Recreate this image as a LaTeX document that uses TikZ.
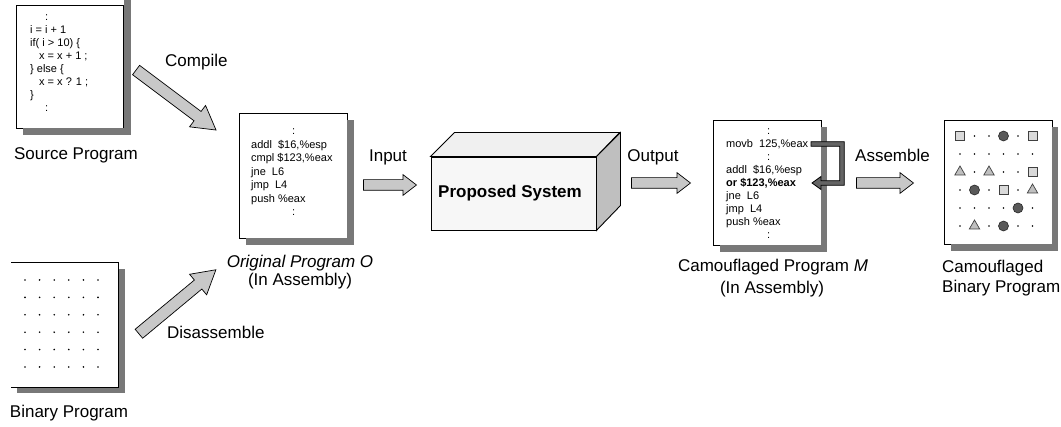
\documentclass[tikz,border=0pt]{standalone}
\usepackage{fontspec}
\setmainfont{Liberation Sans}
\usetikzlibrary{shapes.arrows,shapes.geometric,calc}

\definecolor{shadowgray}{RGB}{120,120,120}
\definecolor{bracketgray}{RGB}{100,100,100}
\definecolor{arrowgray}{RGB}{200,200,200}

\tikzset{
  paper/.style={fill=white,draw=black,line width=0.9pt},
  dropshade/.style={fill=shadowgray},
  lbl/.style={font=\fontsize{17}{20}\selectfont,inner sep=0pt},
  codeline/.style={font=\fontsize{11}{13}\selectfont,anchor=base west,inner sep=0pt},
  blockarrow/.style={single arrow,draw=black,fill=arrowgray,line width=0.7pt,
    inner xsep=0pt,inner ysep=5pt,single arrow head extend=5pt,
    single arrow tip angle=75,minimum width=0pt},
  bigarrow/.style={blockarrow,inner ysep=5.5pt,single arrow head extend=7.5pt,
    single arrow tip angle=60},
  gd/.style={circle,fill=black,minimum size=1.8pt,inner sep=0pt},
  gs/.style={rectangle,draw=black!75,fill=gray!30,line width=0.7pt,minimum size=9pt,inner sep=0pt},
  gc/.style={circle,draw=black!85,fill=black!65,line width=0.6pt,minimum size=10pt,inner sep=0pt},
  gt/.style={regular polygon,regular polygon sides=3,draw=black!75,fill=gray!50,
    line width=0.7pt,minimum size=12pt,inner sep=0pt},
}

% block arrow from one named coordinate to another
\newcommand\blockarrowfromto[4]{%
  \path let \p1=($(#3)-(#2)$), \n1={veclen(\x1,\y1)}, \n2={atan2(\y1,\x1)} in
    node[#1,minimum height=\n1,rotate=\n2] (#4) at ($(#2)!0.5!(#3)$) {};}

\begin{document}
\begin{tikzpicture}[x=1pt,y=-1pt]
\useasboundingbox (0,0) rectangle (1061,427);

% ---------- source program ----------
\node[paper,anchor=north west,minimum width=107pt,minimum height=123pt,inner sep=0pt] (src) at (16,5) {};
\fill[dropshade] (src.north east) ++(0.45pt,7pt) rectangle (131,135);
\fill[dropshade] (src.south west) ++(7pt,0.45pt) rectangle (131,135);
\node[codeline] (s1) at (45,21) {:};
\node[codeline] (s2) at (30,34) {i = i + 1};
\node[codeline] (s3) at (30,47) {if( i > 10) \{};
\node[codeline] (s4) at (39,60) {x = x + 1 ;};
\node[codeline] (s5) at (30,73) {\} else \{};
\node[codeline] (s6) at (39,86) {x = x ? 1 ;};
\node[codeline] (s7) at (30,99) {\}};
\node[codeline] (s8) at (45,112) {:};
\node[lbl] (srcl) at (76,155) {Source Program};

% ---------- binary program ----------
\node[fill=white,anchor=north west,minimum width=107pt,minimum height=125pt,inner sep=0pt] (bin) at (11,262) {};
\fill[dropshade] (118.45,269) rectangle (125,393);
\fill[dropshade] (17,387.45) rectangle (125,393);
\draw[line width=0.9pt] (bin.north west) -- (bin.north east) -- (bin.south east) -- (bin.south west);
\foreach \r in {0,...,5}
  \foreach \c in {0,...,5}
    \node[gd] (bd-\r-\c) at ({25+14.6*\c},{280+17.4*\r}) {};
\node[lbl] (binl) at (69,413) {Binary Program};

% ---------- original program O ----------
\node[paper,anchor=north west,minimum width=108pt,minimum height=125pt,inner sep=0pt] (orig) at (239,113) {};
\fill[dropshade] (347.45,120) rectangle (354,245);
\fill[dropshade] (246,238.45) rectangle (354,245);
\node[codeline] (o1) at (292,135) {:};
\node[codeline] (o2) at (251,148.5) {addl\ \ \$16,\%esp};
\node[codeline] (o3) at (251,162) {cmpl \$123,\%eax};
\node[codeline] (o4) at (251,175.5) {jne\ \ L6};
\node[codeline] (o5) at (251,189) {jmp\ \ L4};
\node[codeline] (o6) at (251,202.5) {push \%eax};
\node[codeline] (o7) at (292,216) {:};
\node[lbl] (origl1) at (300,263) {\itshape Original Program O};
\node[lbl] (origl2) at (300,281) {(In Assembly)};

% compile / disassemble arrows
\coordinate (cmpA) at (132,67);
\coordinate (cmpB) at (212,127);
\blockarrowfromto{bigarrow}{cmpA}{cmpB}{cmparrow}
\node[lbl,anchor=west] (cmpl) at (165,62) {Compile};
\coordinate (disA) at (135,337);
\coordinate (disB) at (212,273);
\blockarrowfromto{bigarrow}{disA}{disB}{disarrow}
\node[lbl,anchor=west] (disl) at (167,332) {Disassemble};

% ---------- proposed system ----------
\node[draw=black,line width=0.9pt,fill=gray!6,minimum width=165pt,minimum height=73pt,
      inner sep=0pt] (sys) at (513.5,193.5) {};
\node[font=\fontsize{17}{20}\selectfont\bfseries,inner sep=0pt] (sysl) at (510,193) {Proposed System};
\draw[line width=0.9pt,fill=gray!12] (sys.north west) -- ++(24,-24) -- ++(165,0) -- (sys.north east) -- cycle;
\draw[line width=0.9pt,fill=gray!50] (sys.north east) -- ++(24,-24) -- ++(0,73) -- (sys.south east) -- cycle;

\coordinate (inA) at (360,185);
\coordinate (inB) at (413,185);
\blockarrowfromto{blockarrow}{inA}{inB}{inarrow}
\node[lbl] (inl) at (388,157) {Input};
\coordinate (outA) at (628,183);
\coordinate (outB) at (687,183);
\blockarrowfromto{blockarrow}{outA}{outB}{outarrow}
\node[lbl] (outl) at (653,157) {Output};

% ---------- camouflaged program M ----------
\node[paper,anchor=north west,minimum width=108pt,minimum height=125pt,inner sep=0pt] (cam) at (713,120) {};
\fill[dropshade] (821.45,127) rectangle (827,252);
\fill[dropshade] (720,245.45) rectangle (827,252);
\node[codeline] (m1) at (767,135) {:};
\node[codeline] (m2) at (726,147.9) {movb\ \ 125,\%eax};
\node[codeline] (m3) at (767,160.8) {:};
\node[codeline] (m4) at (726,173.7) {addl\ \ \$16,\%esp};
\node[codeline] (m5) at (726,186.6) {\bfseries or \$123,\%eax};
\node[codeline] (m6) at (726,199.5) {jne\ \ L6};
\node[codeline] (m7) at (726,212.4) {jmp\ \ L4};
\node[codeline] (m8) at (726,225.3) {push \%eax};
\node[codeline] (m9) at (767,238.2) {:};
% moved-instruction bracket, drawn as one outlined band with its arrowhead
\coordinate (bkA) at (811,144);
\coordinate (bkB) at (812,183);
\draw[line width=0.8pt,fill=bracketgray,line join=miter]
  (bkA) ++(0,-2.3) -- (844.3,141.7) -- (844.3,185.3) -- (821,185.3) -- (821,189.5)
  -- (bkB) -- (821,176.5) -- (821,180.7) -- (839.7,180.7) -- (839.7,146.3) -- (811,146.3) -- cycle;
\node[lbl] (caml1) at (773,267) {Camouflaged Program \textit{M}};
\node[lbl] (caml2) at (772,289) {(In Assembly)};

\coordinate (asmA) at (853,183);
\coordinate (asmB) at (910,183);
\blockarrowfromto{blockarrow}{asmA}{asmB}{asmarrow}
\node[lbl,anchor=west] (asml) at (855,155) {Assemble};

% ---------- camouflaged binary program ----------
\node[paper,anchor=north west,minimum width=108pt,minimum height=124pt,inner sep=0pt] (cbin) at (944,120) {};
\fill[dropshade] (1052.45,127) rectangle (1058,251);
\fill[dropshade] (951,244.45) rectangle (1058,251);
\foreach \row [count=\r] in {{s,d,d,c,d,s},{d,d,d,d,d,d},{t,d,t,d,d,s},{d,c,d,s,d,t},{d,d,d,d,c,d},{d,t,d,c,d,d}}
  \foreach \k [count=\c] in \row
    \node[g\k] (cb-\r-\c) at ({960+14.5*(\c-1)},{136+18*(\r-1)}) {};
\node[lbl,anchor=west] (cbl1) at (942,268) {Camouflaged};
\node[lbl,anchor=west] (cbl2) at (942,288) {Binary Program};
\end{tikzpicture}
\end{document}
